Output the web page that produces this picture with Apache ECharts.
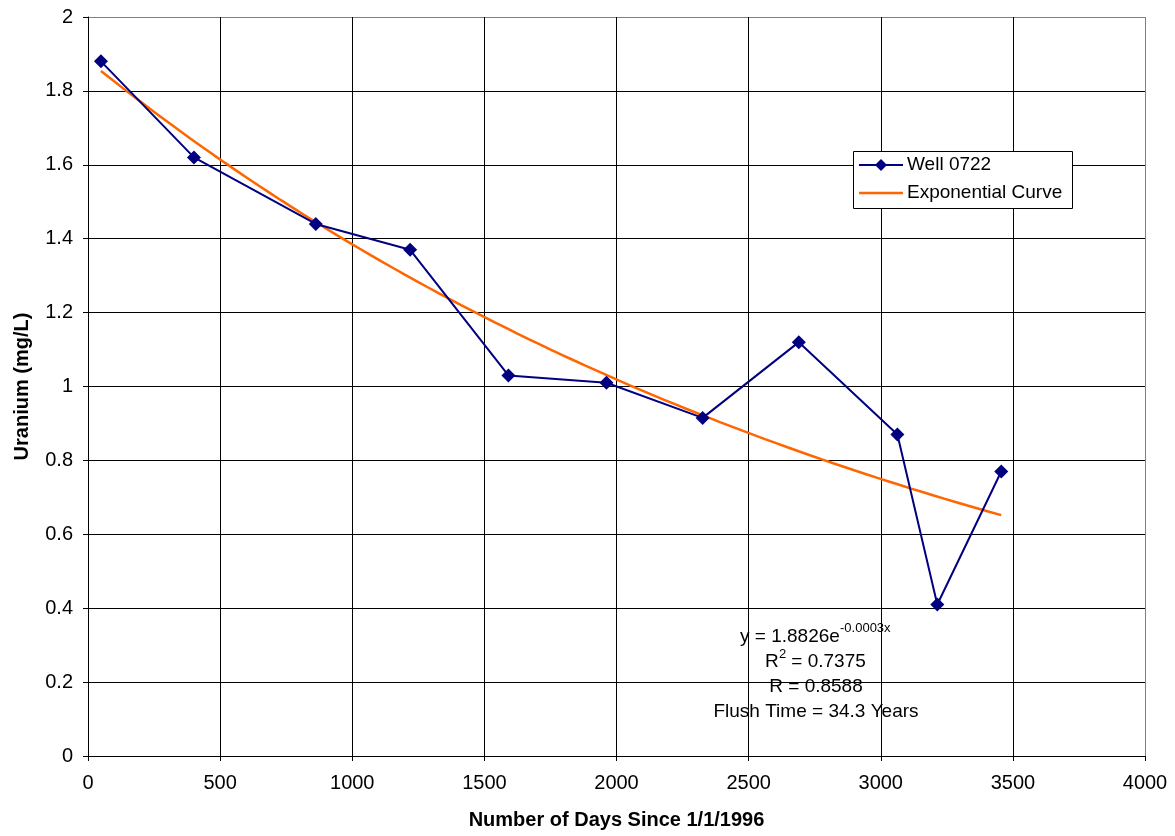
<!DOCTYPE html>
<html>
<head>
<meta charset="utf-8">
<script src="https://cdn.jsdelivr.net/npm/echarts@6/dist/echarts.min.js"></script>
<style>
  html, body { margin: 0; padding: 0; background: #ffffff; }
  #chart { width: 1175px; height: 836px; }
</style>
</head>
<body>
<div id="chart"></div>
<script>
// Sampling days (days since 1/1/1996) and uranium concentrations for Well 0722
const days = [49, 401, 862, 1219, 1591, 1962, 2326, 2690, 3063, 3214, 3456];
const uranium = [1.88, 1.62, 1.44, 1.37, 1.03, 1.01, 0.915, 1.12, 0.87, 0.41, 0.77];

const seriesNames = ['Well 0722', 'Exponential Curve'];

// Fit statistics printed on the chart
const fitLines = [
  { main: 'y = 1.8826e', sup: '-0.0003x' },
  { main: 'R', sup: '2', tail: ' = 0.7375' },
  { main: 'R = 0.8588' },
  { main: 'Flush Time = 34.3 Years' }
];

const FONT = 'Liberation Sans, Arial, sans-serif';
const NAVY = '#000080';
const ORANGE = '#FF6600';

// Exponential least-squares fit (linear regression on ln y)
function expFit(xs, ys) {
  const n = xs.length;
  const ly = ys.map(Math.log);
  const mx = xs.reduce((a, b) => a + b, 0) / n;
  const my = ly.reduce((a, b) => a + b, 0) / n;
  let sxy = 0, sxx = 0;
  for (let i = 0; i < n; i++) {
    sxy += (xs[i] - mx) * (ly[i] - my);
    sxx += (xs[i] - mx) * (xs[i] - mx);
  }
  const k = sxy / sxx;
  return { a: Math.exp(my - k * mx), k: k };
}
const fit = expFit(days, uranium);
const curve = [];
const x0 = days[0], x1 = days[days.length - 1];
for (let i = 0; i <= 80; i++) {
  const x = x0 + (x1 - x0) * i / 80;
  curve.push([x, fit.a * Math.exp(fit.k * x)]);
}

const wellData = days.map((d, i) => [d, uranium[i]]);

// Split lines: black inside, grey on the outer frame edge
const yLines = Array.from({ length: 11 }, (_, i) => i === 10 ? '#808080' : '#000000');
const xLines = Array.from({ length: 9 }, (_, i) => i === 8 ? '#808080' : '#000000');

// Legend box drawn as graphics (line with diamond / plain line)
const LG = { x: 853, y: 151, w: 219, h: 57 };
const legendGraphics = [
  { type: 'rect', shape: { x: LG.x + 0.5, y: LG.y + 0.5, width: LG.w, height: LG.h },
    style: { fill: '#ffffff', stroke: '#000', lineWidth: 1 }, z: 10 },
  { type: 'line', shape: { x1: 859, y1: 165, x2: 903, y2: 165 },
    style: { stroke: NAVY, lineWidth: 2 }, z: 11 },
  { type: 'polygon', shape: { points: [[881, 159], [887, 165], [881, 171], [875, 165]] },
    style: { fill: NAVY }, z: 12 },
  { type: 'text', x: 907, y: 165, z: 11,
    style: { text: seriesNames[0], fontFamily: FONT, fontSize: 19, fill: '#000', verticalAlign: 'middle' } },
  { type: 'line', shape: { x1: 859, y1: 193, x2: 903, y2: 193 },
    style: { stroke: ORANGE, lineWidth: 2.5 }, z: 11 },
  { type: 'text', x: 907, y: 193, z: 11,
    style: { text: seriesNames[1], fontFamily: FONT, fontSize: 19, fill: '#000', verticalAlign: 'middle' } }
];

const chart = echarts.init(document.getElementById('chart'));
chart.setOption({
  animation: false,
  backgroundColor: '#ffffff',
  grid: { left: 88, right: 30, top: 17, bottom: 80, containLabel: false },
  xAxis: {
    type: 'value', min: 0, max: 4000, interval: 500,
    name: 'Number of Days Since 1/1/1996',
    nameLocation: 'middle', nameGap: 54,
    nameTextStyle: { fontFamily: FONT, fontSize: 20, fontWeight: 'bold', color: '#000' },
    axisLine: { show: true, lineStyle: { color: '#000', width: 1 } },
    axisTick: { show: true, length: 5, lineStyle: { color: '#000' } },
    axisLabel: { margin: 17, fontFamily: FONT, fontSize: 20, color: '#000',
                 formatter: v => String(v) },
    splitLine: { show: true, lineStyle: { color: xLines, width: 1 } }
  },
  yAxis: {
    type: 'value', min: 0, max: 2, interval: 0.2,
    name: 'Uranium (mg/L)',
    nameLocation: 'middle', nameGap: 56,
    nameTextStyle: { fontFamily: FONT, fontSize: 20, fontWeight: 'bold', color: '#000' },
    axisLine: { show: true, lineStyle: { color: '#000', width: 1 } },
    axisTick: { show: true, length: 5, lineStyle: { color: '#000' } },
    axisLabel: { margin: 15, fontFamily: FONT, fontSize: 20, color: '#000' },
    splitLine: { show: true, lineStyle: { color: yLines, width: 1 } }
  },
  series: [
    {
      name: seriesNames[1], type: 'line', data: curve,
      symbol: 'none', smooth: false,
      lineStyle: { color: ORANGE, width: 2.5 },
      itemStyle: { color: ORANGE },
      z: 2
    },
    {
      name: seriesNames[0], type: 'line', data: wellData,
      symbol: 'diamond', symbolSize: 14, showSymbol: true,
      lineStyle: { color: NAVY, width: 2 },
      itemStyle: { color: NAVY },
      z: 3
    }
  ],
  graphic: legendGraphics.concat([
    { type: 'text', left: 740, top: 627, style: { text: fitLines[0].main, fontFamily: FONT, fontSize: 19, fill: '#000' } },
    { type: 'text', left: 840, top: 622, style: { text: fitLines[0].sup, fontFamily: FONT, fontSize: 13, fill: '#000' } },
    { type: 'text', left: 765, top: 652, style: { text: fitLines[1].main, fontFamily: FONT, fontSize: 19, fill: '#000' } },
    { type: 'text', left: 779, top: 648, style: { text: fitLines[1].sup, fontFamily: FONT, fontSize: 13, fill: '#000' } },
    { type: 'text', left: 786, top: 652, style: { text: fitLines[1].tail, fontFamily: FONT, fontSize: 19, fill: '#000' } },
    { type: 'text', x: 816, y: 687, style: { text: fitLines[2].main, fontFamily: FONT, fontSize: 19, fill: '#000', align: 'center', verticalAlign: 'middle' } },
    { type: 'text', x: 816, y: 712, style: { text: fitLines[3].main, fontFamily: FONT, fontSize: 19, fill: '#000', align: 'center', verticalAlign: 'middle' } }
  ])
});
</script>
</body>
</html>
